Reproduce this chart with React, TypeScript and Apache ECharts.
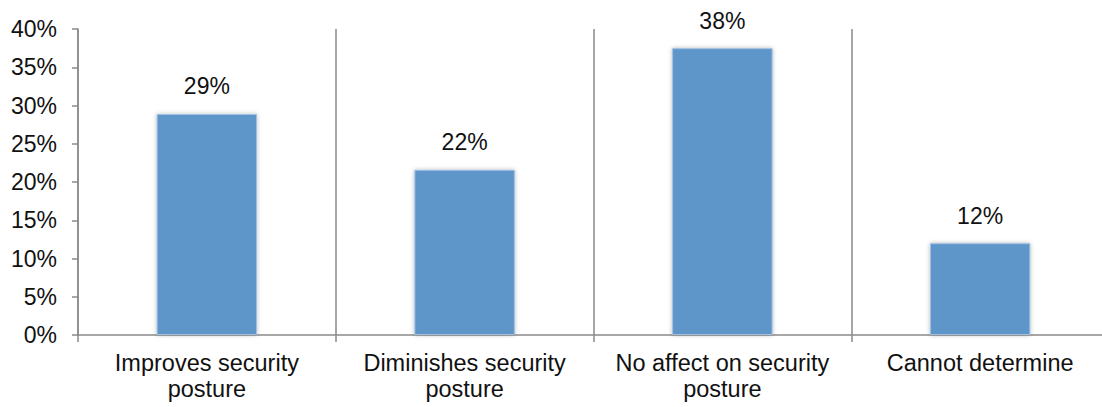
import React, { useEffect, useRef } from "react";
import * as echarts from "echarts";

// Survey responses: effect on security posture
const categories: string[] = [
  "Improves security\nposture",
  "Diminishes security\nposture",
  "No affect on security\nposture",
  "Cannot determine",
];
const shares: number[] = [28.9, 21.6, 37.5, 12.0];
const yTicks: number[] = [0, 5, 10, 15, 20, 25, 30, 35, 40];

const FONT = "'Liberation Sans', Arial, Helvetica, sans-serif";
const AXIS_GREY = "#8a8a8a";

export default function App() {
  const ref = useRef<HTMLDivElement>(null);

  useEffect(() => {
    document.body.style.margin = "0";
    document.body.style.overflow = "hidden";
    if (!ref.current) return;
    const chart = echarts.init(ref.current, undefined, { renderer: "svg" });
    chart.setOption({
      animation: false,
      textStyle: { fontFamily: FONT },
      grid: { left: 78, top: 29, bottom: 72, right: 0, containLabel: false },
      xAxis: {
        type: "category",
        data: categories,
        boundaryGap: true,
        axisLine: { show: true, lineStyle: { color: AXIS_GREY, width: 1.5 } },
        axisTick: {
          show: true,
          alignWithLabel: false,
          length: 7,
          lineStyle: { color: AXIS_GREY, width: 1.5 },
        },
        splitLine: {
          show: true,
          interval: 0,
          lineStyle: { color: AXIS_GREY, width: 1.5 },
        },
        axisLabel: {
          interval: 0,
          color: "#111",
          fontSize: 23.5,
          lineHeight: 26,
          margin: 15,
          fontFamily: FONT,
        },
      },
      yAxis: {
        type: "value",
        min: yTicks[0],
        max: yTicks[yTicks.length - 1],
        interval: yTicks[1] - yTicks[0],
        axisLine: { show: true, lineStyle: { color: AXIS_GREY, width: 1.5 } },
        axisTick: {
          show: true,
          inside: false,
          length: 6,
          lineStyle: { color: AXIS_GREY, width: 1.5 },
        },
        splitLine: { show: false },
        axisLabel: {
          color: "#111",
          fontSize: 23,
          margin: 21,
          fontFamily: FONT,
          formatter: (v: number) => `${v}%`,
        },
      },
      series: [
        {
          type: "bar",
          data: shares,
          barWidth: "39%",
          itemStyle: {
            color: "#5f96c9",
            borderColor: "#a3c2e2",
            borderWidth: 1,
            shadowColor: "rgba(0,0,0,0.28)",
            shadowBlur: 4,
          },
          label: {
            show: true,
            position: "top",
            distance: 16,
            color: "#111",
            fontSize: 23,
            fontFamily: FONT,
            formatter: (p: any) => `${Math.round(p.value)}%`,
          },
        },
      ],
    });
    return () => chart.dispose();
  }, []);

  return <div ref={ref} style={{ width: 1109, height: 407 }} />;
}
